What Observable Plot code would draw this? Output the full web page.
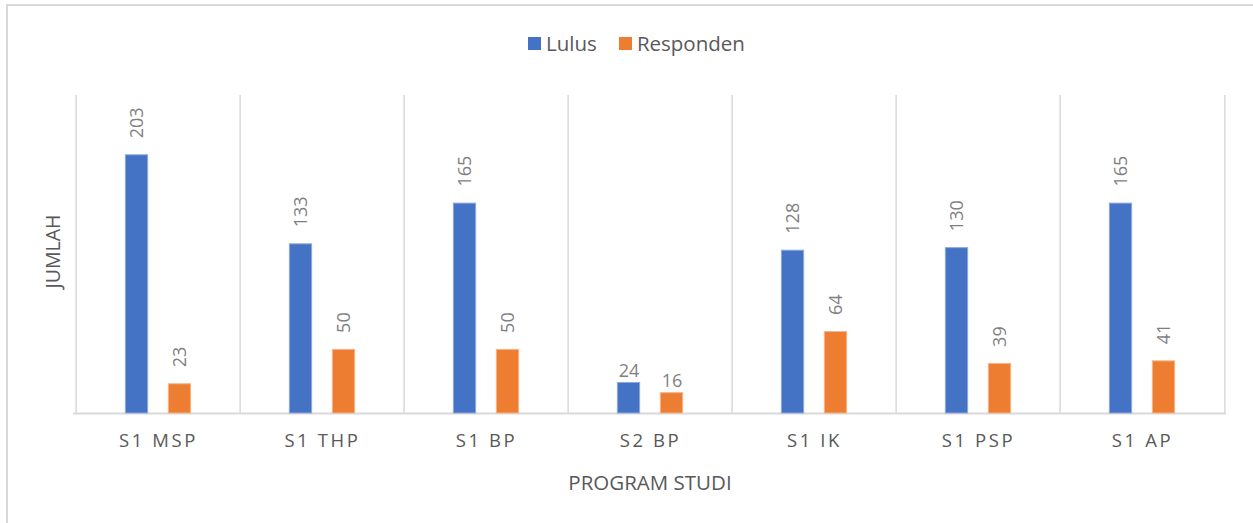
<!DOCTYPE html>
<html>
<head>
<meta charset="utf-8">
<script src="https://cdn.jsdelivr.net/npm/d3@7"></script>
<script src="https://cdn.jsdelivr.net/npm/@observablehq/plot@0.6"></script>
<style>
  html, body { margin: 0; padding: 0; background: #fff; }
  body { width: 1253px; height: 523px; position: relative; overflow: hidden; font-family: "Open Sans", sans-serif; }
  #frame { position: absolute; left: 6px; top: 4px; width: 1260px; height: 540px; border: 2px solid #d9d9d9; box-sizing: border-box; }
  #legend { position: absolute; top: 29px; left: 10px; width: 1253px; display: flex; justify-content: center; gap: 22px; font-size: 20.5px; color: #595959; }
  #legend .item { display: flex; align-items: center; gap: 5px; }
  #legend .sw { width: 13px; height: 13px; display: inline-block; }
  #chart { position: absolute; left: 0; top: 80px; }
  #chart svg [aria-label="x-axis tick label"] text { letter-spacing: 2.6px; }
</style>
</head>
<body>
<div id="frame"></div>
<div id="legend"></div>
<div id="chart"></div>
<script>
const categories = ["S1 MSP", "S1 THP", "S1 BP", "S2 BP", "S1 IK", "S1 PSP", "S1 AP"];
const lulus = [203, 133, 165, 24, 128, 130, 165];
const responden = [23, 50, 50, 16, 64, 39, 41];
const seriesNames = ["Lulus", "Responden"];
const seriesColors = ["#4472C4", "#ED7D31"];
const horizontalLabelCats = ["S2 BP"];

const lulusData = categories.map((c, i) => ({cat: c, value: lulus[i], series: "Lulus"}));
const respData = categories.map((c, i) => ({cat: c, value: responden[i], series: "Responden"}));

// legend
const legend = document.getElementById("legend");
seriesNames.forEach((s, i) => {
  const it = document.createElement("div");
  it.className = "item";
  it.innerHTML = `<span class="sw" style="background:${seriesColors[i]}"></span><span>${s}</span>`;
  legend.appendChild(it);
});

const W = 1253, H = 430;
const mL = 73, mR = 27, mT = 15, mB = 97;
const step = (W - mL - mR) / categories.length;
const barW = 23, off = 21.5;
const inset = (step - barW) / 2;

const rot = d => !horizontalLabelCats.includes(d.cat);
const labelStyle = {fill: "#7f7f7f", fontSize: 18, fontFamily: "Open Sans"};

const plot = Plot.plot({
  width: W, height: H,
  marginLeft: mL, marginRight: mR, marginTop: mT, marginBottom: mB,
  style: {fontFamily: "Open Sans", background: "transparent"},
  x: {type: "band", domain: categories, padding: 0, label: null},
  y: {domain: [0, 250], axis: null},
  marks: [
    Plot.ruleX(categories, {x: d => d, dx: -step / 2, y1: 0, y2: 250, stroke: "#d9d9d9", strokeWidth: 1.5}),
    Plot.ruleX([categories[categories.length - 1]], {x: d => d, dx: step / 2, y1: 0, y2: 250, stroke: "#d9d9d9", strokeWidth: 1.5}),
    Plot.ruleY([0], {stroke: "#d9d9d9", strokeWidth: 2}),
    Plot.barY(lulusData, {x: "cat", y: "value", fill: seriesColors[0], dx: -off, insetLeft: inset, insetRight: inset, stroke: "#8fa9dc", strokeWidth: 1}),
    Plot.barY(respData, {x: "cat", y: "value", fill: seriesColors[1], dx: off, insetLeft: inset, insetRight: inset, stroke: "#f5b48a", strokeWidth: 1}),
    Plot.text(lulusData.filter(rot), {x: "cat", y: "value", text: d => String(d.value), dx: -off, dy: -17, rotate: -90, textAnchor: "start", ...labelStyle}),
    Plot.text(respData.filter(rot), {x: "cat", y: "value", text: d => String(d.value), dx: off, dy: -17, rotate: -90, textAnchor: "start", ...labelStyle}),
    Plot.text(lulusData.filter(d => !rot(d)), {x: "cat", y: "value", text: d => String(d.value), dx: -off, dy: -6, lineAnchor: "bottom", ...labelStyle}),
    Plot.text(respData.filter(d => !rot(d)), {x: "cat", y: "value", text: d => String(d.value), dx: off, dy: -6, lineAnchor: "bottom", ...labelStyle}),
    Plot.axisX({tickSize: 0, tickPadding: 20, fontSize: 18.5, color: "#595959", label: "PROGRAM STUDI", labelAnchor: "center", labelArrow: "none", labelOffset: 76}),
    Plot.text(["JUMLAH"], {frameAnchor: "left", dx: -20, dy: -3, rotate: -90, textAnchor: "middle", fill: "#595959", fontSize: 19.5, fontFamily: "Open Sans"})
  ]
});
plot.querySelectorAll('[aria-label="x-axis label"] text').forEach(t => { t.setAttribute("font-size", "20.5"); t.setAttribute("fill", "#595959"); });
document.getElementById("chart").appendChild(plot);
</script>
</body>
</html>
